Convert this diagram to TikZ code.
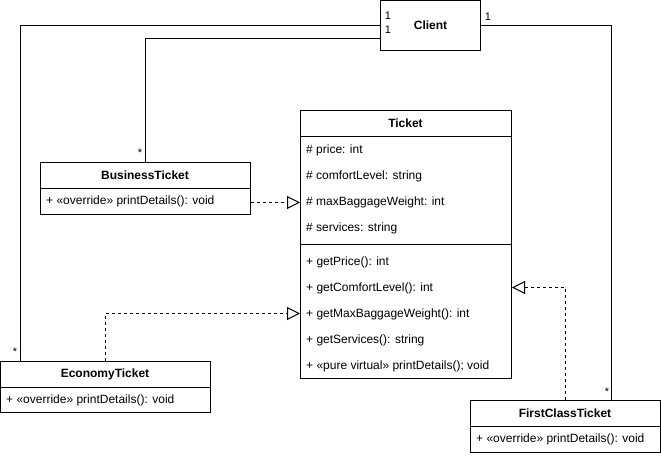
\documentclass[tikz,border=0pt]{standalone}
\usepackage{fontspec}
\setmainfont{Liberation Sans}
\usetikzlibrary{arrows.meta, positioning}

\begin{document}
\begin{tikzpicture}[
    x=1pt, y=-1pt,
    classbox/.style={draw, line width=1pt, anchor=north west, inner sep=0pt},
    classname/.style={font=\fontsize{12}{14}\selectfont\bfseries},
    member/.style={anchor=west, inner sep=0pt, font=\fontsize{12}{14}\selectfont},
    mult/.style={inner sep=0pt, font=\fontsize{11}{13}\selectfont},
    assoc/.style={line width=1pt},
    realize/.style={line width=1pt, dash pattern=on 3pt off 3pt, -{Triangle[open, length=13pt, width=13pt]}},
]
    \useasboundingbox (0,0) rectangle (661,456);

    % client
    \node[classbox, minimum width=100pt, minimum height=50pt] (client) at (380,0) {};
    \node[classname] (clientname) at (client.center) {Client};

    % ticket
    \node[classbox, minimum width=211pt, minimum height=268pt] (ticket) at (300,110) {};
    \node[classname] (ticketname) at (405.5,123) {Ticket};
    \draw[assoc] (ticket.north west) ++(0,26) -- ++(211,0);
    \draw[assoc] (ticket.north west) ++(0,134) -- ++(211,0);
    \foreach \m [count=\i] in {\# price: int, \# comfortLevel: string, \# maxBaggageWeight: int, \# services: string}
        \node[member] (tattr\i) at (306,124+26*\i) {\m};
    \foreach \m [count=\i] in {+ getPrice(): int, + getComfortLevel(): int, + getMaxBaggageWeight(): int, + getServices(): string, + «pure virtual» printDetails(); void}
        \node[member] (tmeth\i) at (306,236+26*\i) {\m};

    % business
    \node[classbox, minimum width=210pt, minimum height=52pt] (business) at (40,162) {};
    \node[classname] (businessname) at (145,175) {BusinessTicket};
    \draw[assoc] (business.north west) ++(0,26) -- ++(210,0);
    \node[member] (businessmeth) at (46,201) {+ «override» printDetails(): void};

    % economy
    \node[classbox, minimum width=210pt, minimum height=51pt] (economy) at (0,361) {};
    \node[classname] (economyname) at (105,374) {EconomyTicket};
    \draw[assoc] (economy.north west) ++(0,26) -- ++(210,0);
    \node[member] (economymeth) at (6,400) {+ «override» printDetails(): void};

    % first class
    \node[classbox, minimum width=190pt, minimum height=52pt] (firstclass) at (470,400) {};
    \node[classname] (firstclassname) at (565,413) {FirstClassTicket};
    \draw[assoc] (firstclass.north west) ++(0,26) -- ++(190,0);
    \node[member] (firstclassmeth) at (476,439) {+ «override» printDetails(): void};

    % associations
    \coordinate (ecoend) at (20,361);
    \draw[assoc] (client.west) -| (ecoend);
    \coordinate (busstart) at ([yshift=-13pt]client.west);
    \draw[assoc] (busstart) -| (business.north);
    \coordinate (fcend) at (611,400);
    \draw[assoc] (client.east) -| (fcend);

    \node[mult] (mul1) at (388,16) {1};
    \node[mult] (mul2) at (388,30) {1};
    \node[mult] (mul3) at (488,17) {1};
    \node[mult] (mul4) at (15,352) {*};
    \node[mult] (mul5) at (140,153) {*};
    \node[mult] (mul6) at (607,392) {*};

    % realizations
    \coordinate (busarr) at ([yshift=-14pt]business.east);
    \draw[realize] (busarr) -- (busarr -| ticket.west);
    \coordinate (ecoarr) at ([yshift=-69pt]ticket.west);
    \draw[realize] (economy.north) |- (ecoarr);
    \coordinate (fcarr) at ([yshift=-43pt]ticket.east);
    \draw[realize] (firstclass.north) |- (fcarr);
\end{tikzpicture}
\end{document}
